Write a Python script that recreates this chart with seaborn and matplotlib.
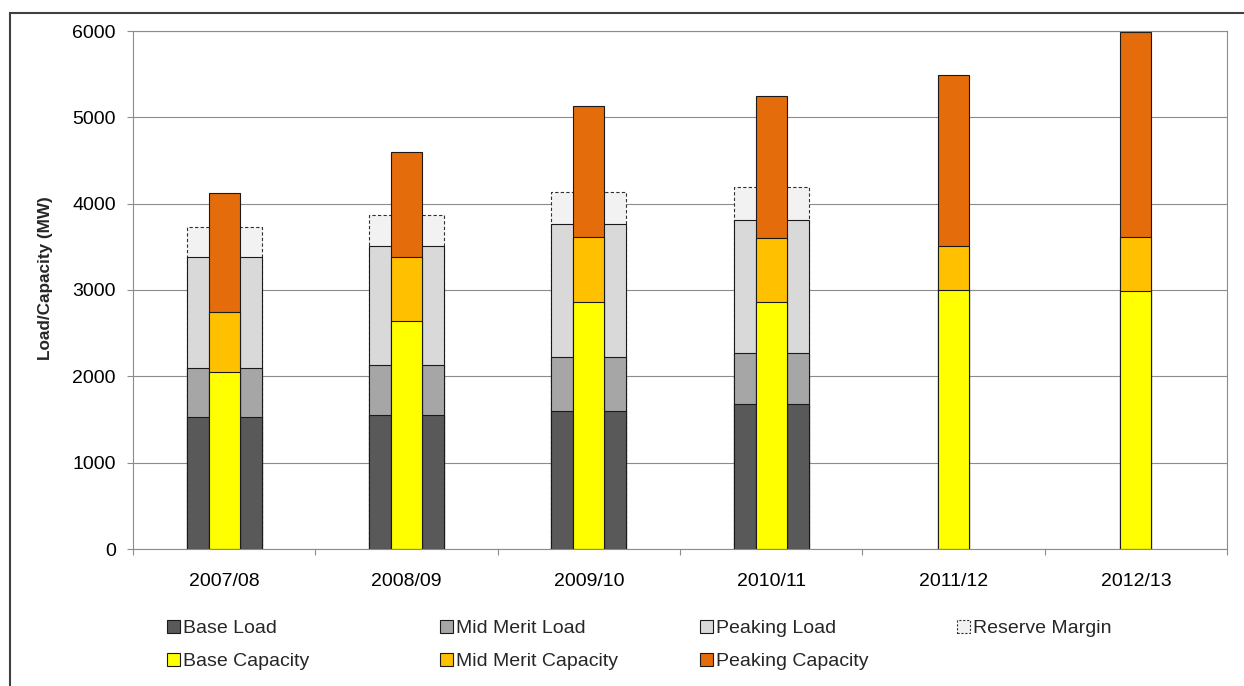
import numpy as np
import pandas as pd
import matplotlib
matplotlib.use("Agg")
import matplotlib.pyplot as plt
from matplotlib.patches import Patch, Rectangle
from matplotlib.ticker import FixedLocator
import seaborn as sns

# ---- data (MW) ----
years = ["2007/08", "2008/09", "2009/10", "2010/11", "2011/12", "2012/13"]
base_load = [1525, 1550, 1600, 1675, np.nan, np.nan]
mid_merit_load = [575, 580, 620, 600, np.nan, np.nan]
peaking_load = [1285, 1380, 1540, 1540, np.nan, np.nan]
reserve_margin = [350, 360, 370, 380, np.nan, np.nan]
base_capacity = [2055, 2640, 2860, 2860, 3000, 2985]
mid_merit_capacity = [685, 740, 750, 740, 510, 625]
peaking_capacity = [1380, 1220, 1520, 1650, 1980, 2380]
y_ticks = [0, 1000, 2000, 3000, 4000, 5000, 6000]

C_BASE_LOAD = "#595959"
C_MID_LOAD = "#A6A6A6"
C_PEAK_LOAD = "#D9D9D9"
C_RESERVE = "#F2F2F2"
C_BASE_CAP = "#FFFF00"
C_MID_CAP = "#FFC000"
C_PEAK_CAP = "#E46C0A"
GRID = "#8C8C8C"
DASH = (0, (3, 2))

sns.set_theme(style="white")
plt.rcParams["font.family"] = ["Liberation Sans", "DejaVu Sans"]

W, H = 1244, 686
fig = plt.figure(figsize=(W / 100, H / 100), dpi=100)
fig.patch.set_facecolor("white")
ax = fig.add_axes([133 / W, 1 - 549 / H, (1227 - 133) / W, (549 - 31) / H])


def draw_stack(layers, width):
    """Draw a stacked bar by painting cumulative totals from the top layer down."""
    tops = np.cumsum(np.vstack([vals for vals, _, _ in layers]), axis=0)
    for i in range(len(layers) - 1, -1, -1):
        _, color, extra = layers[i]
        df = pd.DataFrame({"year": years, "value": tops[i]})
        kw = dict(edgecolor="#1a1a1a", linewidth=0.8)
        kw.update(extra)
        sns.barplot(data=df, x="year", y="value", order=years, color=color,
                    saturation=1, width=width, errorbar=None, ax=ax, **kw)


# load stack (wide, behind)
draw_stack([
    (base_load, C_BASE_LOAD, {}),
    (mid_merit_load, C_MID_LOAD, {}),
    (peaking_load, C_PEAK_LOAD, {}),
    (reserve_margin, C_RESERVE, {"linestyle": DASH, "edgecolor": "#303030"}),
], width=0.41)

# capacity stack (narrow, in front)
draw_stack([
    (base_capacity, C_BASE_CAP, {}),
    (mid_merit_capacity, C_MID_CAP, {}),
    (peaking_capacity, C_PEAK_CAP, {}),
], width=0.17)

# ---- axes styling ----
ax.set_xlim(-0.5, len(years) - 0.5)
ax.set_ylim(0, 6000)
ax.set_yticks(y_ticks)
ax.set_yticklabels([str(v) for v in y_ticks])
ax.set_xlabel("")
ax.set_ylabel("")
ax.set_axisbelow(True)
ax.yaxis.grid(True, color=GRID, linewidth=0.8)
ax.xaxis.grid(False)
for side in ["left", "bottom", "right", "top"]:
    ax.spines[side].set_visible(True)
    ax.spines[side].set_color(GRID)
    ax.spines[side].set_linewidth(0.8)

ax.tick_params(axis="y", which="major", left=True, length=4.5, width=0.8,
               color=GRID, direction="out", pad=8, labelsize=14, labelcolor="black")
ax.tick_params(axis="x", which="major", bottom=True, length=0, pad=17,
               labelsize=14, labelcolor="black")
ax.xaxis.set_minor_locator(FixedLocator(np.arange(-0.5, len(years), 1.0)))
ax.tick_params(axis="x", which="minor", bottom=True, length=4.5, width=0.8,
               color=GRID, direction="out")

fig.text(46 / W, 1 - 278 / H, "Load/Capacity (MW)", rotation=90,
         ha="center", va="center", fontsize=12.3, fontweight="bold")

# ---- legend, four columns ----
def patch(color, **kw):
    base = dict(facecolor=color, edgecolor="#1a1a1a", linewidth=0.8)
    base.update(kw)
    return Patch(**base)

columns = [
    [("Base Load", patch(C_BASE_LOAD)), ("Base Capacity", patch(C_BASE_CAP))],
    [("Mid Merit Load", patch(C_MID_LOAD)), ("Mid Merit Capacity", patch(C_MID_CAP))],
    [("Peaking Load", patch(C_PEAK_LOAD)), ("Peaking Capacity", patch(C_PEAK_CAP))],
    [("Reserve Margin", patch(C_RESERVE, linestyle=(0, (2, 1.5)), edgecolor="#303030"))],
]
col_x = [167, 440, 700, 957]
for x, entries in zip(col_x, columns):
    fig.legend([h for _, h in entries], [t for t, _ in entries],
               loc="upper left", bbox_to_anchor=(x / W, 1 - 620 / H),
               frameon=False, borderpad=0, borderaxespad=0,
               handlelength=0.65, handleheight=0.65, handletextpad=0.15,
               labelspacing=0.8, fontsize=14)

# chart-area border
fig.add_artist(Rectangle((10 / W, -0.05), 1.2, (1 - 13 / H) + 0.05,
                         transform=fig.transFigure, fill=False,
                         edgecolor="#404040", linewidth=1.5))

fig.savefig("out.png", dpi=100, facecolor="white")
